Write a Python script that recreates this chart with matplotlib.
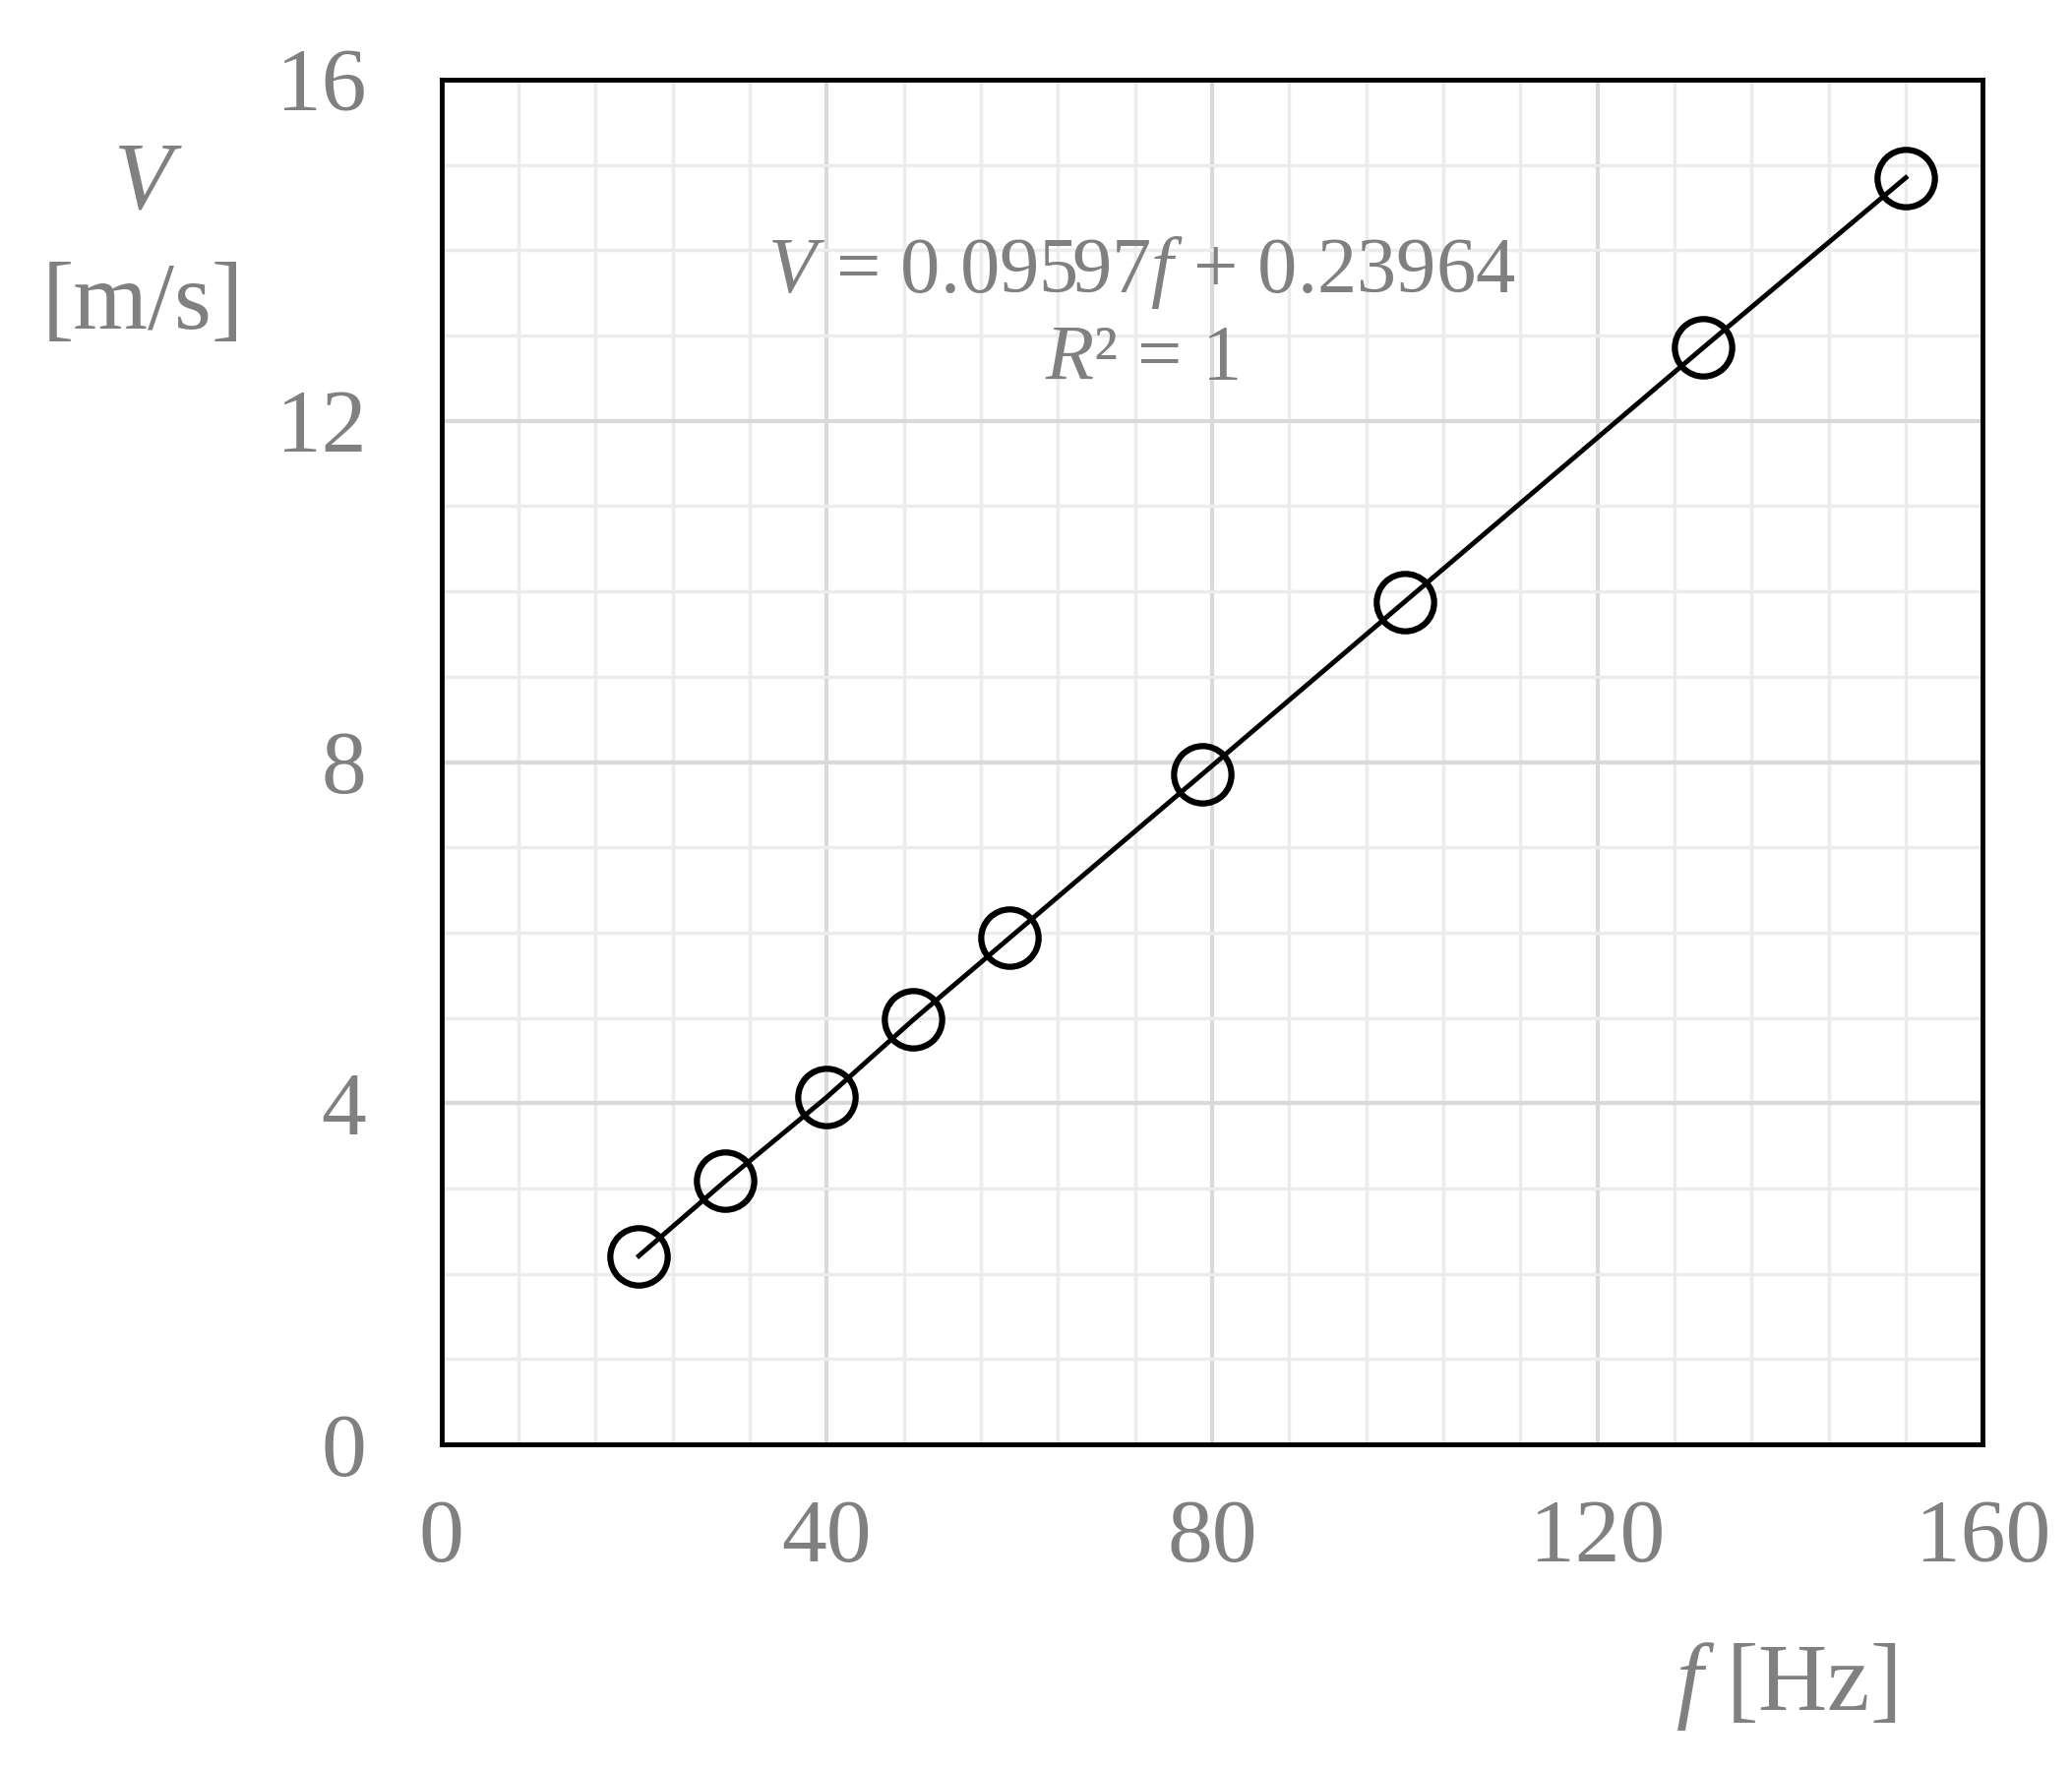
import numpy as np
import matplotlib.pyplot as plt
from matplotlib.ticker import MultipleLocator

freq = [20.5, 29.5, 40, 49, 59, 79, 100, 131, 152]
vel = [2.21, 3.09, 4.07, 4.98, 5.94, 7.86, 9.88, 12.86, 14.85]

plt.rcParams['font.family'] = ['Liberation Serif', 'DejaVu Serif']
plt.rcParams['mathtext.fontset'] = 'custom'
plt.rcParams['mathtext.rm'] = 'Liberation Serif'
plt.rcParams['mathtext.it'] = 'Liberation Serif:italic'
gray = '#808080'

fig = plt.figure(figsize=(21.06, 17.97), dpi=100)
ax = fig.add_axes([0.213, 0.183, 0.744, 0.772])

ax.plot(freq, vel, color='black', lw=3.5, marker='o', markersize=42,
        markerfacecolor='none', markeredgecolor='black', markeredgewidth=4.5, zorder=3)

ax.set_xlim(0, 160)
ax.set_ylim(0, 16)
ax.xaxis.set_major_locator(MultipleLocator(40))
ax.xaxis.set_minor_locator(MultipleLocator(8))
ax.yaxis.set_major_locator(MultipleLocator(4))
ax.yaxis.set_minor_locator(MultipleLocator(1))
ax.grid(which='major', color='#d9d9d9', lw=3)
ax.grid(which='minor', color='#ececec', lw=2.5)
ax.set_axisbelow(True)
ax.tick_params(which='both', length=0, labelsize=66, labelcolor=gray)
ax.tick_params(axis='y', pad=55)
ax.tick_params(axis='x', pad=40)
for s in ax.spines.values():
    s.set_linewidth(3.5)
    s.set_color('black')

fig.text(0.069, 0.895, 'V', fontsize=70, color=gray, ha='center', va='center',
         fontstyle='italic')
fig.text(0.069, 0.827, '[m/s]', fontsize=70, color=gray, ha='center', va='center')
fig.text(0.862, 0.046, '$\\it{f}$ [Hz]', fontsize=70, color=gray, ha='center', va='center')
fig.text(0.551, 0.846, '$\\it{V}$ = 0.09597$\\it{f}$ + 0.23964', fontsize=58, color=gray,
         ha='center', va='center')
fig.text(0.551, 0.796, '$\\it{R}$² = 1', fontsize=58, color=gray,
         ha='center', va='center')

fig.savefig('out.png', dpi=100)
